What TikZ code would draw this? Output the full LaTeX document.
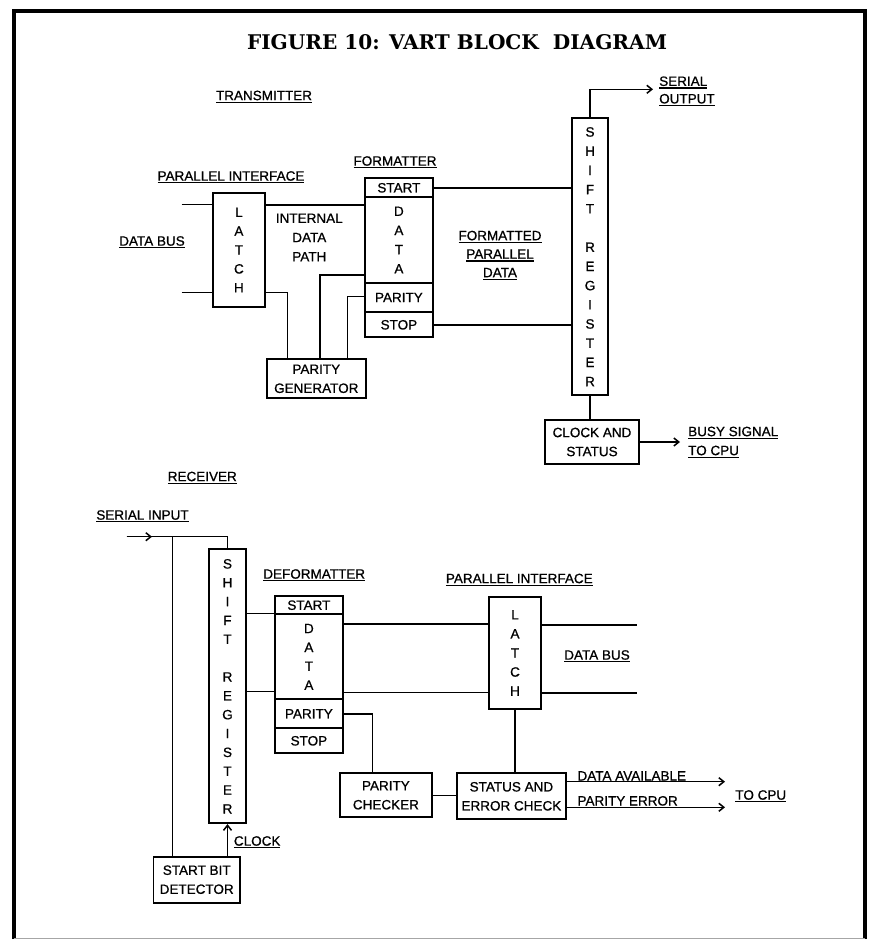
\documentclass[tikz,border=0pt]{standalone}
\usepackage{fontspec}
\usepackage{graphicx}
\usetikzlibrary{arrows.meta}
\newfontfamily\lblfont[FakeBold=0.8]{Liberation Sans}
\newfontfamily\ttlfont{DejaVu Serif}
\newcommand\lbl{\lblfont\fontsize{13.5}{19}\selectfont}
\newcommand\vf[1]{\lblfont\fontsize{13.5}{#1}\selectfont}
\newcommand\ulx[1]{\setbox0=\hbox{#1}\rlap{\smash{\rule[-2.8pt]{\wd0}{1.3pt}}}\box0}
\begin{document}
\begin{tikzpicture}[x=1pt,y=-1pt,
  box/.style={draw, line width=1.7pt, inner sep=0pt, align=center, font=\lbl},
  lab/.style={inner sep=0pt, align=center, font=\lbl},
  wire/.style={line width=1.5pt},
  arr/.style={line width=1.5pt, -{Straight Barb[length=5pt,width=8pt]}},
]
\useasboundingbox (0,0) rectangle (869,941);
% frame
\draw[line width=3.5pt] (14,939) -- (14,11) -- (865,11) -- (865,939);
\draw[line width=1pt, black!35] (14,938) -- (865,938);
% title
\node[inner sep=0pt] (title) at (457,42.5) {\resizebox{420pt}{15pt}{\ttlfont\bfseries FIGURE 10: VART BLOCK\ \ DIAGRAM}};

% ---------------- transmitter ----------------
\node[lab] (ltrans) at (264,95.5) {\ulx{TRANSMITTER}};
\node[lab, align=left, anchor=west, font={\vf{17.5}}] (lserout) at (659,90) {\ulx{SERIAL}\\\ulx{OUTPUT}};
\node[lab] (lpi1) at (231,176) {\ulx{PARALLEL INTERFACE}};
\node[lab] (ldb1) at (152,241) {\ulx{DATA BUS}};
\node[lab, font={\vf{19.2}}] (lidp) at (309.3,237.5) {INTERNAL\\DATA\\PATH};
\node[lab] (lfmt) at (395,161) {\ulx{FORMATTER}};
\node[lab, font={\vf{18.5}}] (lfpd) at (500,254) {\ulx{FORMATTED}\\\ulx{PARALLEL}\\\ulx{DATA}};
\node[lab, align=left, anchor=west, font={\vf{19}}] (lbusy) at (688,441) {\ulx{BUSY SIGNAL}\\\ulx{TO CPU}};

\node[box, minimum width=52.3pt, minimum height=113.4pt, font={\vf{18.9}}] (txlatch) at (238.9,250) {L\\A\\T\\C\\H};
\node[box, minimum width=67.7pt, minimum height=19pt] (fstart) at (398.9,187.8) {START};
\node[box, minimum width=67.7pt, minimum height=85.4pt, font={\vf{19.2}}] (fdata) at (398.9,240) {D\\A\\T\\A};
\node[box, minimum width=67.7pt, minimum height=29.6pt] (fpar) at (398.9,297.5) {PARITY};
\node[box, minimum width=67.7pt, minimum height=25pt] (fstop) at (398.9,324.8) {STOP};
\node[box, minimum width=99.3pt, minimum height=39pt] (pargen) at (316.3,378.8) {PARITY\\GENERATOR};
\node[box, minimum width=36.6pt, minimum height=276.7pt, font={\vf{19.2}}] (txsr) at (590,256.7) {S\\H\\I\\F\\T\\[19.2pt]R\\E\\G\\I\\S\\T\\E\\R};
\node[box, minimum width=94pt, minimum height=44pt] (clk) at (592,442) {CLOCK AND\\STATUS};

\coordinate (dbin1) at (181.7,204.3);
\coordinate (dbin2) at (181.7,292.3);
\draw[wire] (dbin1) -- (txlatch.west |- dbin1);
\draw[wire] (dbin2) -- (txlatch.west |- dbin2);
\draw[wire] (txlatch.east |- 0,205) -- (fdata.west |- 0,205);
\draw[wire] (txlatch.east |- dbin2) -| (pargen.north -| 287.3,0);
\draw[wire] (fdata.west |- 0,275) -| (pargen.north -| 320,0);
\draw[wire] (fpar.west |- 0,296.7) -| (pargen.north -| 347.3,0);
\draw[wire] (fstart.east) -- (txsr.west |- fstart.east);
\draw[wire] (fstop.east) -- (txsr.west |- fstop.east);
\coordinate (serout) at (653,89.3);
\draw[arr] (txsr.north) |- (serout);
\draw[wire] (txsr.south) -- (clk.north -| txsr.south);
\coordinate (busy) at (680,442);
\draw[arr] (clk.east) -- (busy);

% ---------------- receiver ----------------
\node[lab] (lrec) at (202.3,476.5) {\ulx{RECEIVER}};
\node[lab] (lserin) at (142.5,515) {\ulx{SERIAL INPUT}};
\node[lab] (ldef) at (314.2,574) {\ulx{DEFORMATTER}};
\node[lab] (lpi2) at (519.3,578.5) {\ulx{PARALLEL INTERFACE}};
\node[lab] (ldb2) at (597,655) {\ulx{DATA BUS}};
\node[lab] (lclk) at (257.2,841) {\ulx{CLOCK}};
\node[lab, anchor=base west] (lda) at (577.3,780.5) {DATA AVAILABLE};
\node[lab, anchor=base west] (lpe) at (577.3,805.5) {PARITY ERROR};
\node[lab] (ltocpu) at (760.8,795) {\ulx{TO CPU}};

\node[box, minimum width=36.4pt, minimum height=274pt, font={\vf{18.85}}] (rxsr) at (227.5,686.3) {S\\H\\I\\F\\T\\[18.85pt]R\\E\\G\\I\\S\\T\\E\\R};
\node[box, minimum width=67.7pt, minimum height=18.3pt] (dfstart) at (308.9,605.2) {START};
\node[box, minimum width=67.7pt, minimum height=85pt, font={\vf{18.9}}] (dfdata) at (308.9,656.8) {D\\A\\T\\A};
\node[box, minimum width=67.7pt, minimum height=29pt] (dfpar) at (308.9,713.8) {PARITY};
\node[box, minimum width=67.7pt, minimum height=25pt] (dfstop) at (308.9,740.8) {STOP};
\node[box, minimum width=52pt, minimum height=112.3pt, font={\vf{19.1}}] (rxlatch) at (515,652.9) {L\\A\\T\\C\\H};
\node[box, minimum width=91.7pt, minimum height=44pt] (parchk) at (385.9,795.3) {PARITY\\CHECKER};
\node[box, minimum width=109.3pt, minimum height=46pt] (status) at (511.4,796.3) {STATUS AND\\ERROR CHECK};
\node[box, minimum width=86.7pt, minimum height=46pt] (sbd) at (196.7,879.7) {START BIT\\DETECTOR};

\coordinate (serin) at (126.7,536.7);
\coordinate (sarr) at (152,536.7);
\coordinate (jn) at (172.7,536.7);
\draw[wire] (serin) -| (rxsr.north);
\draw[arr] (serin) -- (sarr);
\draw[wire] (jn) -- (sbd.north -| jn);
\draw[arr] (sbd.north -| rxsr.south) -- (rxsr.south);
\draw[wire] (rxsr.east |- dfdata.north west) -- (dfdata.north west);
\draw[wire] (rxsr.east |- 0,691.7) -- (dfdata.west |- 0,691.7);
\draw[wire] (dfdata.east |- 0,624) -- (rxlatch.west |- 0,624);
\draw[wire] (dfdata.east |- 0,692.3) -- (rxlatch.west |- 0,692.3);
\coordinate (dbo1) at (636.7,625);
\coordinate (dbo2) at (636.7,693);
\draw[wire] (rxlatch.east |- dbo1) -- (dbo1);
\draw[wire] (rxlatch.east |- dbo2) -- (dbo2);
\draw[wire] (dfpar.east) -| (parchk.north -| 372.7,0);
\draw[wire] (parchk.east) -- (status.west |- parchk.east);
\draw[wire] (rxlatch.south) -- (status.north -| rxlatch.south);
\coordinate (da) at (725,781.7);
\coordinate (pe) at (725,807.3);
\draw[arr] (status.east |- da) -- (da);
\draw[arr] (status.east |- pe) -- (pe);
\end{tikzpicture}
\end{document}
